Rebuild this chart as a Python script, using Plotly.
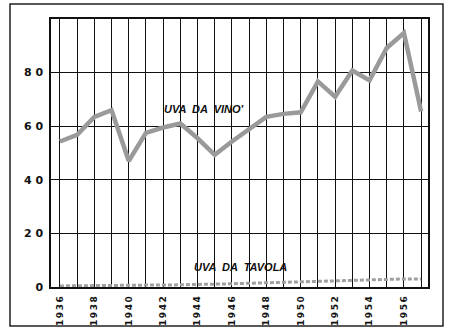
import plotly.graph_objects as go

# Production of grapes, 1936-1957
years = list(range(1936, 1958))
uva_da_vino = [54.3, 56.8, 63.5, 66.0, 47.0, 57.5, 59.5, 61.0, 55.5, 49.3, 54.3,
               58.7, 63.5, 64.6, 65.2, 76.7, 71.0, 80.8, 77.1, 89.2, 94.8, 65.5]
uva_da_tavola = [0.4, 0.5, 0.5, 0.6, 0.6, 0.7, 0.7, 0.8, 0.8, 1.0, 1.2,
                 1.4, 1.6, 1.8, 2.0, 2.2, 2.4, 2.6, 2.7, 2.8, 3.0, 3.0]
y_ticks = [0, 20, 40, 60, 80]

GAP = "\u2006"


def spaced(s):
    return GAP.join(s)


x_text = [spaced(str(y)) if y % 2 == 0 else "" for y in years]
y_text = [" ".join(str(v)) for v in y_ticks]

fig = go.Figure()
fig.add_trace(go.Scatter(
    x=years, y=uva_da_vino, mode="lines",
    line=dict(color="#9a9a9a", width=4.5),
    showlegend=False,
))
fig.add_trace(go.Scatter(
    x=years, y=uva_da_tavola, mode="lines",
    line=dict(color="#a0a0a0", width=3, dash="4px,2px"),
    showlegend=False,
))

fig.add_annotation(x=1944.4, y=66.3, text="<b>UVA  DA  VINO'</b>", showarrow=False,
                   font=dict(family="Liberation Sans", size=11, color="#111", style="italic"))
fig.add_annotation(x=1946.5, y=7.6, text="<b>UVA  DA  TAVOLA</b>", showarrow=False,
                   font=dict(family="Liberation Sans", size=11, color="#111", style="italic"))

# outer frame
fig.add_shape(type="rect", xref="paper", yref="paper",
              x0=-41 / 377, x1=392 / 377, y0=-39 / 268, y1=283 / 268,
              line=dict(color="#222", width=1.5))

fig.update_xaxes(
    range=[1935.48, 1957.4],
    tickvals=years, ticktext=x_text, tickangle=-90,
    tickfont=dict(family="DejaVu Sans", size=9, color="#111", weight="bold"),
    showgrid=True, gridcolor="#111", gridwidth=1.3,
    showline=True, linecolor="#111", linewidth=1.5, mirror=True,
    zeroline=False, ticks="", ticklabelstandoff=4, automargin=False,
)
fig.update_yaxes(
    range=[0, 100],
    tickvals=y_ticks, ticktext=y_text,
    tickfont=dict(family="DejaVu Sans", size=11, color="#111", weight="bold"),
    showgrid=True, gridcolor="#111", gridwidth=1.3,
    showline=True, linecolor="#111", linewidth=1.5, mirror=True,
    zeroline=False, ticks="", ticklabelstandoff=4, automargin=False,
)

fig.update_layout(
    width=449, height=331,
    margin=dict(l=51, r=21, t=19, b=44),
    paper_bgcolor="white", plot_bgcolor="white",
)

fig.write_html("out.html")
